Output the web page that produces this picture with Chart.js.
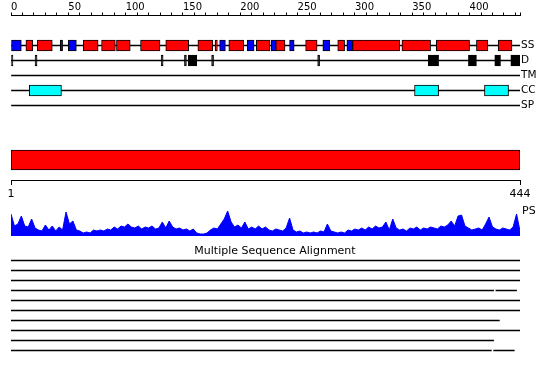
<!DOCTYPE html>
<html><head><meta charset="utf-8">
<script src="https://cdn.jsdelivr.net/npm/chart.js@4/dist/chart.umd.min.js"></script>
<style>
html,body{margin:0;padding:0;background:#fff;}
#wrap{position:relative;width:550px;height:380px;overflow:hidden;background:#fff;}
canvas{position:absolute;left:0;}
</style></head><body>
<div id="wrap">
<canvas id="cTop" width="550" height="125" style="top:0px"></canvas>
<canvas id="cSeq" width="550" height="65" style="top:140px"></canvas>
<canvas id="cPS" width="550" height="35" style="top:205px"></canvas>
<canvas id="cMSA" width="550" height="140" style="top:240px"></canvas>
</div>
<script>
// ---------------- data ----------------
const SEQ_LEN = 444;
const trackNames = ['SS', 'D', 'TM', 'CC', 'SP'];
const rulerLabelEvery = 50;

// secondary structure: helix (red) and strand (blue) ranges
const ssHelix = [[13,19],[23,36],[63,76],[79,91],[92,104],[113,130],[135,155],[163,176],[178,180],
  [190,203],[214,226],[231,239],[257,267],[285,291],[298,339],[341,366],[371,400],[406,416],[425,437]];
const ssStrand = [[0,9],[43,45],[50,57],[182,187],[206,212],[227,231],[243,247],[272,278],[293,298]];
// disorder ranges
const disorder = [[0,1.7],[21,22.7],[131,132.7],[151.3,153],[154.6,162],[175,176.7],[267.5,269.2],
  [364,373],[399,406],[422,427],[436,444]];
// coiled coil ranges
const coiledCoil = [[16,44],[352,373],[413,434]];

// PS profile, one value every PS_STEP residues
const PS_STEP = 3;
const psValues = [
  22,10,12,20,10,9,17,8,6,5,
  11,6,10,5,9,6,24,12,15,6,
  5,3,4,3,6,5,6,5,7,6,
  9,7,10,9,12,9,8,10,7,9,
  8,10,7,8,14,8,15,9,7,8,
  6,7,5,7,3,2,2,3,6,8,
  7,12,17,25,14,9,11,8,14,7,
  9,7,10,7,9,6,5,7,6,5,
  8,18,6,4,5,3,4,3,4,3,
  5,4,12,5,4,3,4,3,6,5,
  7,6,8,6,9,7,10,8,9,14,
  6,17,8,6,7,5,8,7,9,6,
  8,7,9,8,7,10,9,11,15,10,
  20,21,10,8,6,7,8,6,12,19,
  9,7,6,8,7,6,9,22,5];

// multiple sequence alignment coverage segments
const msaLabels = ['Seq 1','Seq 2','Seq 3','Seq 4','Seq 5','Seq 6','Seq 7','Seq 8','Seq 9','Seq 10'];
const msaRowOf  = [0, 1, 2, 3, 3, 4, 5, 6, 7, 8, 9, 9];
const msaRanges = [[0,444],[0,444],[0,444],[0,421],[423,441],[0,444],[0,444],[0,426],[0,444],[0,421],[0,419],[421,439]];

// ---------------- charts ----------------
Chart.defaults.font.family = 'DejaVu Sans';
Chart.defaults.color = '#000';
const base = {
  responsive: false, animation: false, events: [],
  plugins: { legend: { display: false }, tooltip: { enabled: false } }
};

function boxSet(label, ranges, track, color) {
  return {
    label, data: ranges.map(r => ({ y: track, x: r })),
    backgroundColor: color, borderColor: '#000', borderWidth: 1, borderSkipped: false,
    barThickness: 11, grouped: false, order: 0
  };
}

const topCats = ['_a', '_b', ...trackNames, '_z'];
new Chart(document.getElementById('cTop'), {
  type: 'bar',
  data: {
    labels: topCats,
    datasets: [
      boxSet('Helix', ssHelix, 'SS', '#ff0000'),
      boxSet('Strand', ssStrand, 'SS', '#0000ff'),
      boxSet('Disorder', disorder, 'D', '#000000'),
      boxSet('Coiled coil', coiledCoil, 'CC', '#00ffff'),
      { label: 'tracks', data: trackNames.map(t => ({ y: t, x: [0, SEQ_LEN] })),
        backgroundColor: '#000', borderWidth: 0, barThickness: 1, grouped: false, order: 1 }
    ]
  },
  options: {
    ...base, indexAxis: 'y',
    layout: { padding: { left: 11, right: 0, top: 0, bottom: 4.5 } },
    scales: {
      x: {
        type: 'linear', position: 'top', min: 0, max: SEQ_LEN, bounds: 'data',
        grid: { display: true, drawOnChartArea: false, drawTicks: true, tickLength: 3, color: '#000', lineWidth: 1 },
        border: { display: true, color: '#000', width: 1 },
        ticks: {
          stepSize: 10, includeBounds: false, autoSkip: false, maxRotation: 0, minRotation: 0,
          align: 'start', padding: 0, color: '#000', font: { size: 10, lineHeight: 1 },
          callback: v => (v % rulerLabelEvery === 0 ? String(v) : '')
        },
        afterFit: s => { s.height = 15.5; }
      },
      y: {
        type: 'category', position: 'right', offset: false,
        grid: { display: false, drawTicks: false }, border: { display: false },
        ticks: {
          padding: 1, color: '#000', font: { size: 10.5 }, autoSkip: false,
          callback: function (v) { const l = this.getLabelForValue(v); return l.startsWith('_') ? '' : l; }
        },
        afterFit: s => { s.width = 30; s.paddingTop = 0; s.paddingBottom = 0; }
      }
    }
  }
});

new Chart(document.getElementById('cSeq'), {
  type: 'bar',
  data: { labels: ['sequence'], datasets: [{ data: [[1, SEQ_LEN]], backgroundColor: '#ff0000', borderColor: '#000',
    borderWidth: 1, borderSkipped: false, barThickness: 20 }] },
  options: {
    ...base, indexAxis: 'y',
    layout: { padding: { left: 11, right: 30, top: 0, bottom: 0 } },
    scales: {
      x: {
        type: 'linear', position: 'bottom', min: 1, max: SEQ_LEN,
        afterBuildTicks: s => { s.ticks = [{ value: 1 }, { value: SEQ_LEN }]; },
        grid: { drawOnChartArea: false, tickLength: 5, color: '#000' },
        border: { color: '#000' },
        ticks: { autoSkip: false, maxRotation: 0, padding: 4, color: '#000', font: { size: 11, lineHeight: 1 } },
        afterFit: s => { s.height = 25; }
      },
      y: { display: false }
    }
  }
});

new Chart(document.getElementById('cPS'), {
  type: 'line',
  data: { datasets: [{ data: psValues.map((v, i) => ({ x: i * PS_STEP, y: v })),
    borderColor: '#0000ff', backgroundColor: '#0000ff', borderWidth: 1, pointRadius: 0, fill: 'origin', tension: 0 }] },
  options: {
    ...base,
    layout: { padding: { left: 11, right: 0, top: 1, bottom: 4 } },
    scales: {
      x: { type: 'linear', display: false, min: 0, max: SEQ_LEN },
      y: {
        position: 'right', min: 0, max: 30,
        afterBuildTicks: s => { s.ticks = [{ value: 25 }]; },
        ticks: { callback: () => 'PS', padding: 2, color: '#000', font: { size: 11 } },
        grid: { display: false, drawTicks: false }, border: { display: false },
        afterFit: s => { s.width = 30; s.paddingTop = 0; s.paddingBottom = 0; }
      }
    }
  }
});

new Chart(document.getElementById('cMSA'), {
  type: 'bar',
  data: { labels: msaLabels, datasets: [{ data: msaRanges.map((r, i) => ({ y: msaLabels[msaRowOf[i]], x: r })),
    backgroundColor: '#000', borderWidth: 0, barThickness: 1 }] },
  options: {
    ...base, indexAxis: 'y',
    layout: { padding: { left: 11, right: 11, top: 0, bottom: 24.5 } },
    plugins: {
      legend: { display: false }, tooltip: { enabled: false },
      title: { display: true, text: 'Multiple Sequence Alignment', color: '#000',
        font: { size: 11, weight: 'normal', lineHeight: 9 / 11 }, padding: { top: 6.5, bottom: 0 } }
    },
    scales: {
      x: { type: 'linear', display: false, min: 0, max: SEQ_LEN },
      y: { type: 'category', position: 'right', offset: true,
        ticks: { display: false }, grid: { display: false, drawTicks: false }, border: { display: false },
        afterFit: s => { s.width = 19; } }
    }
  }
});
</script>
</body></html>
